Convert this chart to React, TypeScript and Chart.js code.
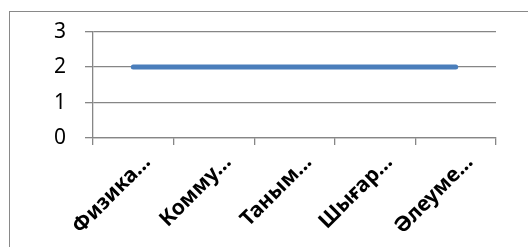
import React, { useEffect, useRef } from "react";
import { Chart, registerables } from "chart.js";

Chart.register(...registerables);

const categories = ["Физика...", "Комму...", "Таным...", "Шығар...", "Әлеуме..."];
const seriesValues = [2, 2, 2, 2, 2];
const yTicks = [0, 1, 2, 3];

export default function App() {
  const canvasRef = useRef<HTMLCanvasElement | null>(null);

  useEffect(() => {
    document.body.style.margin = "0";
    const canvas = canvasRef.current;
    if (!canvas) return;
    const grid = "#868686";
    const chart = new Chart(canvas, {
      type: "line",
      data: {
        labels: categories,
        datasets: [
          {
            data: seriesValues,
            borderColor: "#4A7EBB",
            backgroundColor: "#4A7EBB",
            borderWidth: 5,
            borderCapStyle: "round",
            pointRadius: 0,
            pointHoverRadius: 0,
            fill: false,
            tension: 0,
          },
        ],
      },
      options: {
        animation: false,
        responsive: false,
        maintainAspectRatio: false,
        devicePixelRatio: 1,
        layout: { padding: { left: 0, top: 28, right: 32, bottom: 0 } },
        plugins: { legend: { display: false }, tooltip: { enabled: false } },
        scales: {
          x: {
            type: "category",
            offset: true,
            grid: {
              offset: true,
              drawOnChartArea: false,
              drawTicks: true,
              tickLength: 7,
              color: grid,
              lineWidth: 1.3,
            },
            border: { display: true, color: grid, width: 1.3 },
            ticks: {
              autoSkip: false,
              minRotation: 45,
              maxRotation: 45,
              padding: 5,
              labelOffset: 14,
              color: "#000",
              font: { family: "'Noto Sans', sans-serif", size: 21, weight: "bold" },
            },
            afterFit: (scale: any) => {
              scale.height = 109;
            },
          },
          y: {
            min: 0,
            max: 3,
            afterBuildTicks: (scale: any) => {
              scale.ticks = yTicks.map((v) => ({ value: v }));
            },
            grid: {
              drawOnChartArea: true,
              drawTicks: true,
              tickLength: 8,
              color: grid,
              lineWidth: 1.3,
            },
            border: { display: true, color: grid, width: 1.3 },
            ticks: {
              padding: 19,
              color: "#000",
              font: { family: "'Noto Sans', sans-serif", size: 21 },
            },
            afterFit: (scale: any) => {
              scale.width = 93;
            },
          },
        },
      },
    });
    return () => chart.destroy();
  }, []);

  return (
    <div
      style={{
        position: "fixed",
        left: 0,
        top: 0,
        width: 528,
        height: 247,
        overflow: "hidden",
        background: "#fff",
      }}
    >
      <div
        style={{
          position: "absolute",
          left: 9,
          top: 11,
          width: 600,
          height: 300,
          border: "1.5px solid #898989",
        }}
      />
      <canvas
        ref={canvasRef}
        width={528}
        height={247}
        style={{ position: "absolute", left: 0, top: 0, width: 528, height: 247 }}
      />
    </div>
  );
}
